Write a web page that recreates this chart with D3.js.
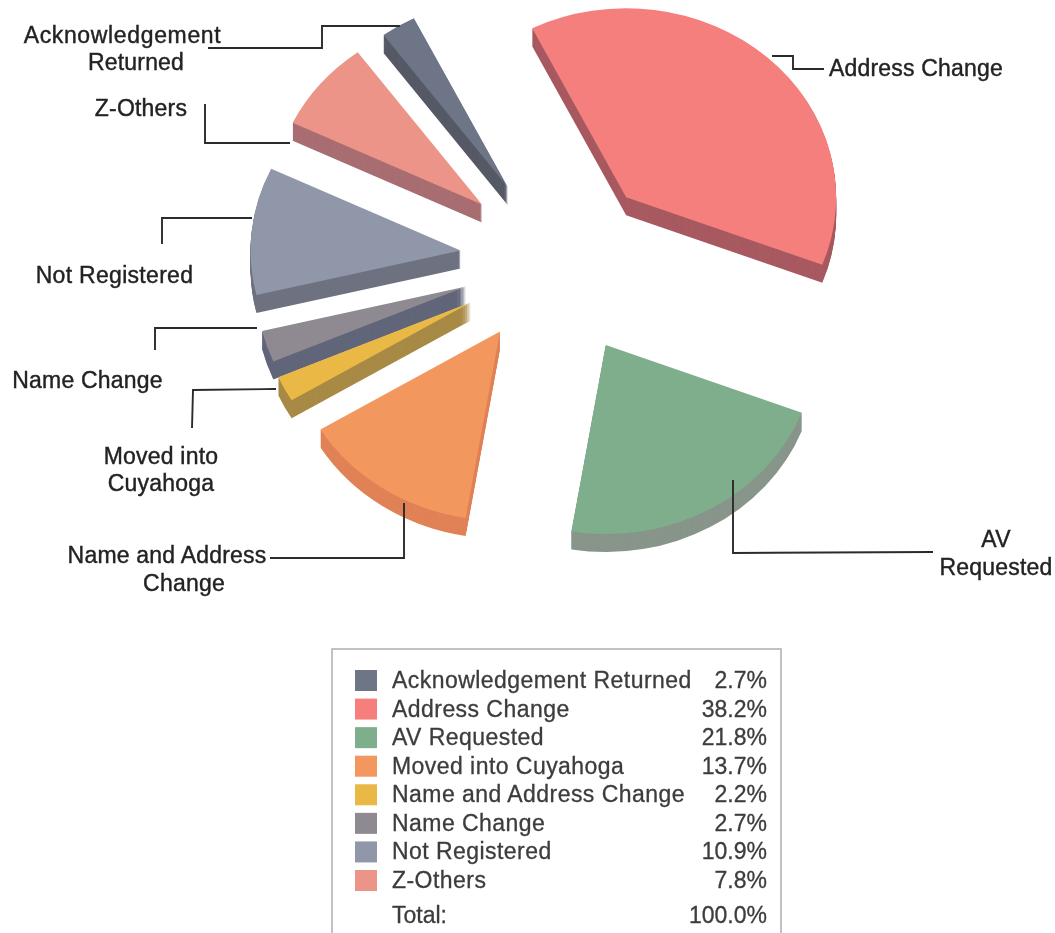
<!DOCTYPE html>
<html>
<head>
<meta charset="utf-8">
<title>Pie</title>
<script src="https://cdn.jsdelivr.net/npm/d3@7"></script>
<style>
  html, body { margin: 0; padding: 0; background: #fff; }
  svg { display: block; }
  text { font-family: "Liberation Sans", Arial, sans-serif; }
</style>
</head>
<body>
<div id="chart"></div>
<script>
// legend order is also the clockwise slice order
const categories = ["Acknowledgement Returned", "Address Change", "AV Requested", "Moved into Cuyahoga",
  "Name and Address Change", "Name Change", "Not Registered", "Z-Others"];
const percents = [2.7, 38.2, 21.8, 13.7, 2.2, 2.7, 10.9, 7.8];
const topColors = ["#6d7487", "#f47f7c", "#7fae8c", "#f2985f", "#eab845", "#8f8a92", "#9097a8", "#ec9488"];
const wallColors = ["#565a66", "#a85a60", "#88958a", "#e08256", "#a88a45", "#62667a", "#6e7280", "#a86e72"];
const totalLabel = "Total:";
const totalValue = 100.0;

const width = 1055, height = 933;
const cx = 557, cy = 265;        // centre before the slices are pulled out
const radius = 210, tilt = 0.9, depth = 18, explode = 100;
const startDeg = -36.3;
// the scan is not quite regular, small per slice corrections (x, y)
const nudges = [[3, -1], [2, -1], [-1, 2], [-1, -8], [3, -4], [4, -7], [3, -5], [2, -3]];

const svg = d3.select("#chart").append("svg")
  .attr("width", width)
  .attr("height", height);

const defs = svg.append("defs");
defs.append("filter").attr("id", "soft")
  .append("feGaussianBlur").attr("stdDeviation", 0.7);
defs.append("filter").attr("id", "softtext")
  .append("feGaussianBlur").attr("stdDeviation", 0.35);

// slices
const toRad = Math.PI / 180;
const pie = d3.pie().sort(null)
  .startAngle(startDeg * toRad)
  .endAngle((startDeg + 360) * toRad);
const arc = d3.arc().innerRadius(0).outerRadius(radius);
const slices = pie(percents).map((d, i) => {
  const mid = (d.startAngle + d.endAngle) / 2;
  return {
    ...d,
    index: i,
    ox: cx + explode * Math.sin(mid) + nudges[i][0],
    oy: cy - explode * tilt * Math.cos(mid) + nudges[i][1]
  };
});
const line = d3.line();

const pieGroup = svg.append("g").attr("filter", "url(#soft)");
const sliceGroups = pieGroup.selectAll("g.slice")
  .data(slices.slice().sort((a, b) => a.oy - b.oy))
  .enter().append("g")
  .classed("slice", true)
  .attr("transform", d => "translate(" + d.ox + "," + d.oy + ")");

// the wall is the same wedge repeated downwards, the top face goes last
sliceGroups.each(function(d){
  const g = d3.select(this);
  for(let k = depth; k > 0; k--){
    g.append("path")
      .attr("d", arc(d))
      .attr("transform", "translate(0," + k + ") scale(1," + tilt + ")")
      .attr("fill", wallColors[d.index]);
  }
  g.append("path")
    .attr("d", arc(d))
    .attr("transform", "scale(1," + tilt + ")")
    .attr("fill", topColors[d.index]);
});

// leader lines and callout text, placed by hand like the original
const leaders = [
  [[208, 48], [322, 48], [322, 26], [400, 26]],
  [[772, 56], [793, 56], [793, 69], [824, 69]],
  [[733, 480], [733, 553], [933, 552]],
  [[270, 558], [404, 558], [404, 503]],
  [[192, 428], [193, 390], [276, 389]],
  [[155, 350], [155, 328], [257, 328]],
  [[162, 244], [162, 218], [252, 218]],
  [[205, 104], [205, 143], [290, 143]]
];
svg.append("g").selectAll("path")
  .data(leaders)
  .enter().append("path")
  .attr("d", d => line(d))
  .attr("fill", "none")
  .attr("stroke", "#2b2b2b")
  .attr("stroke-width", 1.9);

const callouts = [
  {text: "Acknowledgement", x: 122.5, y: 43, ls: 0.65},
  {text: "Returned", x: 136, y: 70, ls: 0.2},
  {text: "Z-Others", x: 141, y: 116, ls: 0.2},
  {text: "Not Registered", x: 114.5, y: 283, ls: 0.3},
  {text: "Name Change", x: 87.5, y: 388, ls: 0.2},
  {text: "Moved into", x: 161, y: 464, ls: 0.2},
  {text: "Cuyahoga", x: 161, y: 491, ls: 0.2},
  {text: "Name and Address", x: 167, y: 563, ls: 0.2},
  {text: "Change", x: 184, y: 591, ls: 0.2},
  {text: "AV", x: 996, y: 547, ls: 0.2},
  {text: "Requested", x: 996, y: 575, ls: 0.2},
  {text: "Address Change", x: 916, y: 76, ls: 0.2}
];
const textGroup = svg.append("g").attr("filter", "url(#softtext)");
textGroup.selectAll("text.callout")
  .data(callouts)
  .enter().append("text")
  .classed("callout", true)
  .attr("x", d => d.x)
  .attr("y", d => d.y)
  .attr("text-anchor", "middle")
  .attr("font-size", "23px")
  .attr("letter-spacing", d => d.ls + "px")
  .attr("fill", "#222")
  .attr("stroke", "#222")
  .attr("stroke-width", 0.4)
  .text(d => d.text);

// legend, the scan cuts off its bottom edge
svg.append("rect")
  .attr("x", 332)
  .attr("y", 649)
  .attr("width", 449)
  .attr("height", 290)
  .attr("fill", "none")
  .attr("stroke", "#a8a8a8")
  .attr("stroke-width", 1.4);

const rowScale = d3.scalePoint()
  .domain(categories)
  .range([688, 888]);
const fmt = d3.format(".1f");

svg.append("g").attr("filter", "url(#soft)").selectAll("rect.swatch")
  .data(categories)
  .enter().append("rect")
  .classed("swatch", true)
  .attr("x", 355)
  .attr("y", d => rowScale(d) - 18)
  .attr("width", 22)
  .attr("height", 21)
  .attr("fill", (d, i) => topColors[i]);

textGroup.selectAll("text.leg-name")
  .data(categories)
  .enter().append("text")
  .classed("leg-name", true)
  .attr("x", 392)
  .attr("y", d => rowScale(d))
  .attr("font-size", "23px")
  .attr("letter-spacing", "0.45px")
  .attr("fill", "#3c3c3c")
  .attr("stroke", "#3c3c3c")
  .attr("stroke-width", 0.3)
  .text(d => d);

textGroup.selectAll("text.leg-value")
  .data(percents)
  .enter().append("text")
  .classed("leg-value", true)
  .attr("x", 767)
  .attr("y", (d, i) => rowScale(categories[i]))
  .attr("text-anchor", "end")
  .attr("font-size", "23px")
  .attr("fill", "#3c3c3c")
  .attr("stroke", "#3c3c3c")
  .attr("stroke-width", 0.3)
  .text(d => fmt(d) + "%");

textGroup.append("text")
  .attr("x", 392)
  .attr("y", 923)
  .attr("font-size", "23px")
  .attr("fill", "#3c3c3c")
  .attr("stroke", "#3c3c3c")
  .attr("stroke-width", 0.3)
  .text(totalLabel);
textGroup.append("text")
  .attr("x", 767)
  .attr("y", 923)
  .attr("text-anchor", "end")
  .attr("font-size", "23px")
  .attr("fill", "#3c3c3c")
  .attr("stroke", "#3c3c3c")
  .attr("stroke-width", 0.3)
  .text(fmt(totalValue) + "%");
</script>
</body>
</html>
